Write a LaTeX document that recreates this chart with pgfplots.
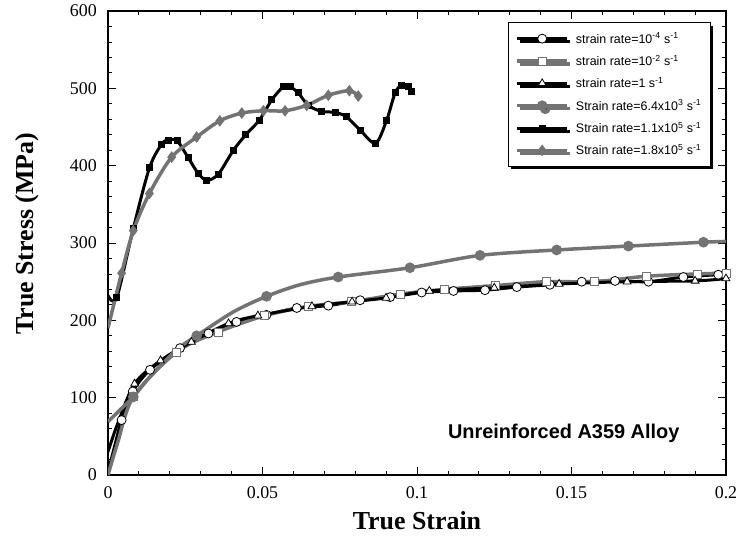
\documentclass[border=0pt]{standalone}
\usepackage{fontspec}
\setmainfont{Liberation Serif}
\newfontfamily\legfont{Liberation Sans}
\usepackage{pgfplots}
\pgfplotsset{compat=1.18}
\usetikzlibrary{shadows}
\definecolor{hg}{gray}{0.45}
\begin{document}
\begin{tikzpicture}
\begin{axis}[name=ax, scale only axis, width=618bp, height=464bp,
 xmin=0, xmax=0.2, ymin=0, ymax=600,
 xtick={0,0.05,0.1,0.15,0.2}, ytick={0,100,...,600},
 minor x tick num=4, minor y tick num=4,
 tick align=inside, major tick length=8bp, minor tick length=4bp,
 tick style={line width=0.8bp, black},
 axis line style={line width=2.5bp},
 scaled x ticks=false,
 /pgf/number format/assume math mode=true,
 x tick label style={/pgf/number format/fixed, /pgf/number format/precision=2},
 xticklabel style={font=\fontsize{18}{18}\selectfont, inner sep=0pt},
 yticklabel style={font=\fontsize{18}{18}\selectfont, inner sep=0pt},
 xticklabel shift=11bp, yticklabel shift=11bp,
 xlabel={True Strain}, ylabel={True Stress (MPa)},
 label style={font=\bfseries\fontsize{26}{26}\selectfont},
 xlabel style={at={(axis description cs:0.5,-0.1185)}, anchor=base},
 ylabel style={at={(axis description cs:-0.12,0.52)}, anchor=base, rotate=0},
 legend cell align=left,
 legend style={at={(0.647,0.976)}, anchor=north west, draw=black, line width=1.2bp,
   fill=white, font=\legfont\fontsize{12.5}{12.5}\selectfont, row sep=6.5bp,
   inner xsep=7bp, inner ysep=8bp,
   /tikz/every odd column/.append style={column sep=5bp},
   general shadow={fill=black, shadow xshift=3bp, shadow yshift=-3bp}},
 legend image code/.code={\draw[mark repeat=2,mark phase=2,#1] plot coordinates {(0bp,0bp)(25bp,0bp)(50bp,0bp)};},
]
% strain rate 1e-4
\addplot[black, line width=3bp, smooth, mark=*, mark phase=3, mark size=4.5bp,
  mark options={solid, fill=white, draw=black, line width=0.8bp}] coordinates {
(0,3)(0.002,35)(0.0044,71)(0.008,108)(0.0136,136)(0.0233,164)(0.0325,183)(0.0416,198)
(0.0513,207)(0.0611,216)(0.0713,219)(0.0816,226)(0.0913,230)(0.1015,236)(0.1118,238)
(0.122,239)(0.1323,243)(0.143,246)(0.1533,250)(0.1641,251)(0.1749,250)(0.1862,256)(0.1975,259)};
\addlegendentry{strain rate=10\textsuperscript{-4} s\textsuperscript{-1}}
% strain rate 1e-2
\addplot[hg, line width=3.5bp, smooth, mark=square*, mark phase=3, mark size=4bp,
  mark options={solid, fill=white, draw=hg, line width=0.8bp}] coordinates {
(0,0)(0.003,40)(0.0082,101)(0.0222,159)(0.0356,185)(0.0507,206)(0.0647,218)(0.0788,224)
(0.0945,234)(0.1089,240)(0.1255,245)(0.142,250)(0.1575,250)(0.1742,257)(0.1909,260)(0.2,261)};
\addlegendentry{strain rate=10\textsuperscript{-2} s\textsuperscript{-1}}
% strain rate 1
\addplot[black, line width=3bp, smooth, mark=triangle*, mark phase=3, mark size=4.5bp,
  mark options={solid, fill=white, draw=black, line width=0.8bp}] coordinates {
(0,30)(0.003,65)(0.0086,118)(0.017,148)(0.027,172)(0.039,196)(0.0485,206)(0.066,218)
(0.079,224)(0.09,229)(0.104,238)(0.125,242)(0.146,247)(0.168,250)(0.19,251)(0.2,254)};
\addlegendentry{strain rate=1 s\textsuperscript{-1}}
% 6.4e3
\addplot[hg, line width=3.5bp, smooth, mark=*, mark indices={3,6,8,10,11,12,13,14,15}, mark size=3.5bp,
  mark options={solid, fill=hg, draw=hg},
  legend image code/.code={\draw[hg, line width=3.5bp] (0bp,0bp) -- (50bp,0bp); \fill[hg] (25bp,0bp) circle (3.5bp);}] coordinates {
(0,69)(0.0041,85)(0.0082,101)(0.0136,127)(0.0222,162)(0.0287,180)(0.0406,211)(0.0513,231)
(0.0621,246)(0.0745,256)(0.0977,268)(0.1204,284)(0.1452,291)(0.1684,296)(0.1927,301)(0.2,302)};
\addlegendentry{Strain rate=6.4x10\textsuperscript{3} s\textsuperscript{-1}}
% 1.1e5
\addplot[black, line width=3bp, smooth, mark=square*, mark phase=2, mark size=2bp,
  mark options={solid, fill=black}] coordinates {
(0,232)(0.0028,229)(0.0082,319)(0.0134,397)(0.0174,428)(0.0195,433)(0.0224,432)(0.026,410)
(0.0292,390)(0.032,381)(0.0357,389)(0.0406,420)(0.0446,440)(0.049,459)(0.053,485)(0.0567,502)
(0.0589,502)(0.0616,494)(0.0648,478)(0.0692,470)(0.0735,469)(0.0772,463)(0.0816,446)(0.0866,429)
(0.0902,459)(0.0929,494)(0.095,504)(0.0972,502)(0.0983,496)};
\addlegendentry{Strain rate=1.1x10\textsuperscript{5} s\textsuperscript{-1}}
% 1.8e5
\addplot[hg, line width=3.5bp, smooth, mark=diamond*, mark phase=2, mark size=3bp,
  mark options={solid, fill=hg, draw=hg}] coordinates {
(0,190)(0.0044,261)(0.0082,316)(0.0134,364)(0.0206,411)(0.0287,437)(0.0362,458)(0.0433,468)
(0.0503,471)(0.0573,471)(0.0643,478)(0.0713,491)(0.0781,497)(0.081,490)};
\addlegendentry{Strain rate=1.8x10\textsuperscript{5} s\textsuperscript{-1}}
\node[font=\legfont\bfseries\fontsize{20}{20}\selectfont] at (axis cs:0.1475,54) {Unreinforced A359 Alloy};
\end{axis}
\path (ax.south west) +(-108bp,-63bp);
\path (ax.north east) +(17bp,11bp);
\end{tikzpicture}
\end{document}
